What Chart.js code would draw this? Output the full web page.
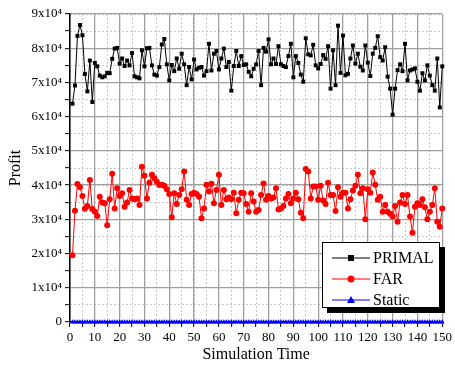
<!DOCTYPE html>
<html>
<head>
<meta charset="utf-8">
<script src="https://cdn.jsdelivr.net/npm/chart.js@4/dist/chart.umd.min.js"></script>
<style>
html, body { margin: 0; padding: 0; background: #fff; }
#wrap { position: relative; width: 455px; height: 366px; }
#legend { position: absolute; left: 322px; top: 242px; width: 116px; height: 64px; border: 1px solid #000; background: #fff; box-shadow: 5px 5px 0 #000; font-family: "Liberation Serif", serif; font-size: 16px; color: #000; }
.row { position: absolute; left: 0; width: 116px; height: 20px; line-height: 20px; }
.row svg { position: absolute; left: 9px; top: 4px; }
.row span { position: absolute; left: 50px; top: 0; }
</style>
</head>
<body>
<div id="wrap">
  <canvas id="myChart" width="455" height="366"></canvas>
  <div id="legend">
    <div class="row" style="top:5px">
      <svg width="38" height="12"><line x1="0" y1="6" x2="38" y2="6" stroke="#000" stroke-width="1"/><rect x="16" y="3" width="6" height="6" fill="#000"/></svg>
      <span>PRIMAL</span>
    </div>
    <div class="row" style="top:26px">
      <svg width="38" height="12"><line x1="0" y1="6" x2="38" y2="6" stroke="#ff0000" stroke-width="1"/><circle cx="19" cy="6" r="3.5" fill="#ff0000"/></svg>
      <span>FAR</span>
    </div>
    <div class="row" style="top:47px">
      <svg width="38" height="12"><line x1="0" y1="6" x2="38" y2="6" stroke="#0000ff" stroke-width="1"/><polygon points="19,2 23,9 15,9" fill="#0000ff"/></svg>
      <span>Static</span>
    </div>
  </div>
</div>
<script>
// profit per simulation step
let primal = [
    63800, 69100, 83600, 86800, 83800, 72500, 67400, 76400, 64300, 75700,
    74700, 72000, 71500, 71800, 72800, 72700, 76900, 79900, 80100, 75500,
    77000, 74800, 76400, 75000, 78600, 71800, 71500, 71200, 79400, 74700,
    80000, 80100, 75000, 72300, 72000, 74500, 81100, 82700, 75300, 70600,
    75100, 73300, 77000, 74000, 78400, 75300, 69200, 74500, 70900, 76700,
    73800, 74300, 74500, 72000, 73300, 81300, 73500, 78400, 79200, 73800,
    77000, 79900, 74500, 76000, 67600, 74800, 79200, 74800, 77700, 75100,
    75300, 73100, 71800, 74000, 75300, 79200, 69200, 80100, 79000, 82600,
    75300, 77000, 75400, 80600, 75300, 74800, 74500, 77700, 81300, 71500,
    77700, 75700, 72300, 70200, 82900, 78200, 77900, 81000, 75000, 74100,
    75400, 78000, 76900, 80600, 68200, 79400, 69200, 86600, 72800, 83700,
    72100, 72500, 77000, 80800, 75500, 78400, 74600, 73500, 80800, 75800,
    71900, 78400, 80100, 83500, 77400, 76400, 80300, 71700, 68200, 60600,
    68200, 73600, 75300, 73300, 81300, 70600, 73500, 73800, 74100, 70200,
    67600, 72700, 70600, 75000, 72000, 69200, 67600, 77000, 62700, 74700
]

let far = [
    19500, 32500, 40300, 39400, 36800, 33100, 33900, 41500, 33000, 32200,
    31000, 36600, 34900, 34700, 28300, 35900, 43300, 33200, 39100, 36800,
    37600, 33700, 34900, 38600, 36100, 35900, 36100, 34200, 45400, 42700,
    36100, 40700, 43000, 42000, 41000, 40000, 40100, 39800, 38800, 37400,
    30600, 37600, 34500, 37100, 38800, 44000, 35700, 34200, 37400, 37800,
    37400, 36600, 30300, 33200, 40100, 38100, 40400, 34700, 38600, 43000,
    34200, 38600, 35900, 36400, 35900, 37800, 31800, 35700, 37800, 37600,
    34500, 32200, 37600, 35200, 32200, 32700, 37100, 40500, 35700, 36800,
    36100, 36400, 39100, 32900, 33200, 33900, 36100, 37400, 34700, 36100,
    37800, 35900, 31900, 30300, 44700, 44000, 36100, 39600, 39600, 35700,
    39800, 35500, 34500, 40700, 37100, 37100, 32400, 39400, 36600, 37800,
    37800, 33200, 35900, 38400, 39800, 43000, 37600, 39100, 30000, 38800,
    37800, 43700, 40100, 35700, 36600, 32200, 34200, 32200, 31600, 30800,
    33900, 29300, 34900, 37100, 34500, 37100, 30800, 26100, 33700, 34700,
    34200, 35900, 33500, 30000, 32200, 34200, 39100, 29300, 27800, 33200
]

let staticProfit = [
    0, 0, 0, 0, 0, 0, 0, 0, 0, 0,
    0, 0, 0, 0, 0, 0, 0, 0, 0, 0,
    0, 0, 0, 0, 0, 0, 0, 0, 0, 0,
    0, 0, 0, 0, 0, 0, 0, 0, 0, 0,
    0, 0, 0, 0, 0, 0, 0, 0, 0, 0,
    0, 0, 0, 0, 0, 0, 0, 0, 0, 0,
    0, 0, 0, 0, 0, 0, 0, 0, 0, 0,
    0, 0, 0, 0, 0, 0, 0, 0, 0, 0,
    0, 0, 0, 0, 0, 0, 0, 0, 0, 0,
    0, 0, 0, 0, 0, 0, 0, 0, 0, 0,
    0, 0, 0, 0, 0, 0, 0, 0, 0, 0,
    0, 0, 0, 0, 0, 0, 0, 0, 0, 0,
    0, 0, 0, 0, 0, 0, 0, 0, 0, 0,
    0, 0, 0, 0, 0, 0, 0, 0, 0, 0,
    0, 0, 0, 0, 0, 0, 0, 0, 0, 0
]

// simulation steps 1..150
let times = primal.map((v, i) => i + 1)

let yTickLabels = ['0', '1x10⁴', '2x10⁴', '3x10⁴', '4x10⁴', '5x10⁴', '6x10⁴', '7x10⁴', '8x10⁴', '9x10⁴']
let xTickLabels = ['0', '10', '20', '30', '40', '50', '60', '70', '80', '90', '100', '110', '120', '130', '140', '150']

const FONT = 'Liberation Serif'

function toPoints(values){
    return values.map((v, i) => ({ x: times[i], y: v }))
}

let data = {
    datasets: [{
        label: 'PRIMAL',
        data: toPoints(primal),
        borderColor: '#000000',
        backgroundColor: '#000000',
        borderWidth: 1,
        pointStyle: 'rect',
        pointRadius: 2.8,
        pointBorderWidth: 0,
        clip: false
    }, {
        label: 'FAR',
        data: toPoints(far),
        borderColor: '#ff0000',
        backgroundColor: '#ff0000',
        borderWidth: 1,
        pointStyle: 'circle',
        pointRadius: 3,
        pointBorderWidth: 0,
        clip: false
    }, {
        label: 'Static',
        data: toPoints(staticProfit),
        borderColor: '#0000ff',
        backgroundColor: '#0000ff',
        borderWidth: 1,
        pointStyle: 'triangle',
        pointRadius: 2.8,
        pointBorderWidth: 0,
        clip: false
    }]
}

let config = {
    type: 'line',
    data: data,
    options: {
        responsive: false,
        animation: false,
        layout: { padding: { left: 0, right: 11, top: 14, bottom: 0 } },
        plugins: {
            legend: { display: false },
            tooltip: { enabled: false }
        },
        scales: {
            // dashed minor grid lines only
            xMinor: {
                axis: 'x', type: 'linear', position: 'bottom', min: 0, max: 150,
                ticks: { stepSize: 5, display: false },
                grid: { color: '#c8c8c8', drawTicks: false, lineWidth: 1 },
                border: { display: false, dash: [2, 2] },
                z: -2
            },
            yMinor: {
                axis: 'y', type: 'linear', position: 'left', min: 0, max: 90000,
                ticks: { stepSize: 5000, display: false },
                grid: { color: '#c8c8c8', drawTicks: false, lineWidth: 1 },
                border: { display: false, dash: [2, 2] },
                z: -2
            },
            x: {
                type: 'linear', position: 'bottom', min: 0, max: 150,
                afterFit: (scale) => { scale.height = 44 },
                ticks: {
                    stepSize: 5, autoSkip: false, maxRotation: 0, padding: 3,
                    color: '#000', font: { family: FONT, size: 13 },
                    callback: (v) => v % 10 === 0 ? xTickLabels[v / 10] : ''
                },
                grid: {
                    color: (c) => c.tick && c.tick.value % 10 === 0 ? '#a0a0a0' : 'rgba(0,0,0,0)',
                    lineWidth: 1.3,
                    tickColor: '#000', tickLength: 5, tickWidth: 1
                },
                border: { color: '#000', width: 1.5 },
                title: {
                    display: true, text: 'Simulation Time', color: '#000',
                    font: { family: FONT, size: 16 }, padding: { top: 0, bottom: 2 }
                },
                z: -1
            },
            y: {
                type: 'linear', position: 'left', min: 0, max: 90000,
                afterFit: (scale) => { scale.width = 70 },
                ticks: {
                    stepSize: 5000, autoSkip: false, padding: 3,
                    color: '#000', font: { family: FONT, size: 13 },
                    callback: (v) => v % 10000 === 0 ? yTickLabels[v / 10000] : ''
                },
                grid: {
                    color: (c) => c.tick && c.tick.value % 10000 === 0 ? '#a0a0a0' : 'rgba(0,0,0,0)',
                    lineWidth: 1.3,
                    tickColor: '#000', tickLength: 5, tickWidth: 1
                },
                border: { color: '#000', width: 1.5 },
                title: {
                    display: true, text: 'Profit', color: '#000',
                    font: { family: FONT, size: 16 }, padding: { top: 6, bottom: 0 }
                },
                z: -1
            }
        }
    }
}

let mychart = new Chart(document.getElementById('myChart'), config)
</script>
</body>
</html>
